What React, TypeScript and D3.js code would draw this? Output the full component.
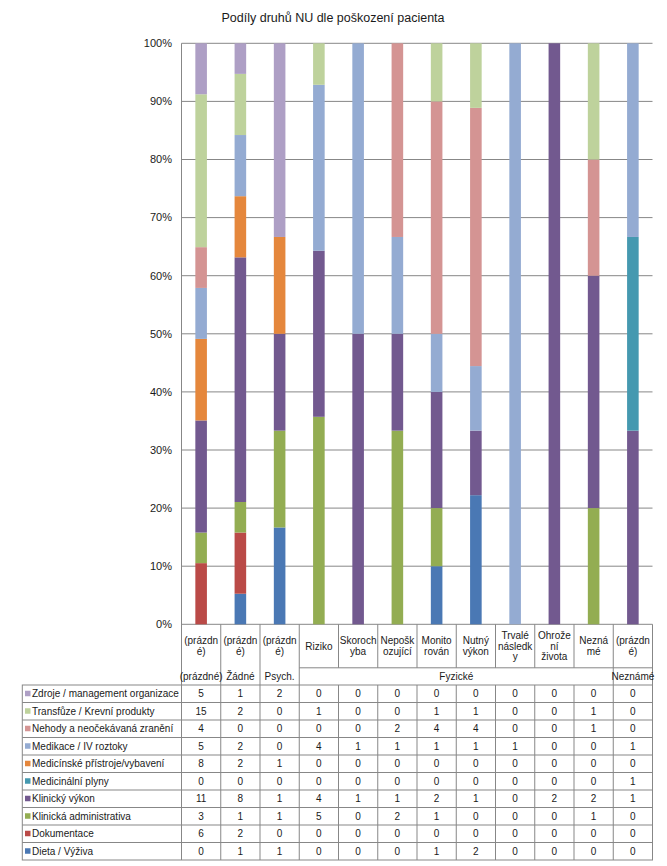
import React from "react";
import * as d3 from "d3";

const title = "Podíly druhů NU dle poškození pacienta";

const categoryLines: string[][] = [
  ["(prázdn", "é)"],
  ["(prázdn", "é)"],
  ["(prázdn", "é)"],
  ["Riziko"],
  ["Skoroch", "yba"],
  ["Nepošk", "ozující"],
  ["Monito", "rován"],
  ["Nutný", "výkon"],
  ["Trvalé", "následk", "y"],
  ["Ohrože", "ní", "života"],
  ["Nezná", "mé"],
  ["(prázdn", "é)"],
];

const groupNames = ["(prázdné)", "Žádné", "Psych.", "Fyzické", "Neznámé"];
const groupStart = [0, 1, 2, 3, 11];
const groupEnd = [0, 1, 2, 10, 11];

// stacking order bottom -> top
const seriesNames = [
  "Dieta / Výživa",
  "Dokumentace",
  "Klinická administrativa",
  "Klinický výkon",
  "Medicinální plyny",
  "Medicínské přístroje/vybavení",
  "Medikace / IV roztoky",
  "Nehody a neočekávaná zranění",
  "Transfůze / Krevní produkty",
  "Zdroje / management organizace",
];

const seriesColors = [
  "#4A78B4",
  "#BA4A47",
  "#93AD52",
  "#72598F",
  "#4599B0",
  "#E5873C",
  "#94ABD2",
  "#D49493",
  "#BED29C",
  "#AE9FC5",
];

const dieta = [0, 1, 1, 0, 0, 0, 1, 2, 0, 0, 0, 0];
const dokumentace = [6, 2, 0, 0, 0, 0, 0, 0, 0, 0, 0, 0];
const klinAdmin = [3, 1, 1, 5, 0, 2, 1, 0, 0, 0, 1, 0];
const klinVykon = [11, 8, 1, 4, 1, 1, 2, 1, 0, 2, 2, 1];
const plyny = [0, 0, 0, 0, 0, 0, 0, 0, 0, 0, 0, 1];
const pristroje = [8, 2, 1, 0, 0, 0, 0, 0, 0, 0, 0, 0];
const medikace = [5, 2, 0, 4, 1, 1, 1, 1, 1, 0, 0, 1];
const nehody = [4, 0, 0, 0, 0, 2, 4, 4, 0, 0, 1, 0];
const transfuze = [15, 2, 0, 1, 0, 0, 1, 1, 0, 0, 1, 0];
const zdroje = [5, 1, 2, 0, 0, 0, 0, 0, 0, 0, 0, 0];

const seriesValues = [dieta, dokumentace, klinAdmin, klinVykon, plyny, pristroje, medikace, nehody, transfuze, zdroje];

const yTicks = [0, 0.1, 0.2, 0.3, 0.4, 0.5, 0.6, 0.7, 0.8, 0.9, 1];

const W = 667;
const H = 866;
const plotLeft = 181.5;
const plotRight = 652.5;
const yTop = 43.3;
const yBottom = 624.3;
const catRowBottom = 667.8;
const tableTop = 685;
const rowH = 17.5;
const tableLeft = 22.3;
const lineColor = "#878787";
const textColor = "#1a1a1a";
const font = "'Liberation Sans', Arial, sans-serif";

export default function App() {
  const idx = d3.range(categoryLines.length);
  const x = d3.scaleBand<number>().domain(idx).range([plotLeft, plotRight]).padding(0);
  const y = d3.scaleLinear().domain([0, 1]).range([yBottom, yTop]);
  const bw = x.bandwidth();
  const barW = bw * 0.295;

  const rows = idx.map((i) => {
    const o: Record<string, number> = {};
    seriesNames.forEach((s, k) => (o[s] = seriesValues[k][i]));
    return o;
  });
  const stack = d3.stack<Record<string, number>>().keys(seriesNames).offset(d3.stackOffsetExpand);
  const stacked = stack(rows);

  const tableRowsOrder = d3.range(seriesNames.length).reverse();
  const tableBottom = tableTop + rowH * tableRowsOrder.length;

  // boundaries where a group changes (full height header lines)
  const groupBoundaries = new Set<number>();
  groupStart.forEach((s) => groupBoundaries.add(s));
  groupBoundaries.add(categoryLines.length);

  return (
    <svg width={W} height={H} style={{ position: "absolute", left: 0, top: 0, background: "#fff" }} fontFamily={font}>
      <rect x={0} y={0} width={W} height={H} fill="#fff" />
      <text x={333} y={22} textAnchor="middle" fontSize={12.5} fill={textColor}>
        {title}
      </text>

      {/* gridlines */}
      {yTicks.map((t) => (
        <g key={t}>
          <line x1={plotLeft} x2={plotRight} y1={y(t)} y2={y(t)} stroke={lineColor} strokeWidth={1} />
          <text x={172} y={y(t)} dy="0.35em" textAnchor="end" fontSize={11} fill={textColor}>
            {d3.format(".0%")(t)}
          </text>
        </g>
      ))}

      {/* bars */}
      {stacked.map((layer, k) => (
        <g key={layer.key} fill={seriesColors[k]}>
          {layer.map((d, i) =>
            d[1] - d[0] > 0 ? (
              <rect
                key={i}
                x={(x(i) as number) + bw / 2 - barW / 2}
                y={y(d[1])}
                width={barW}
                height={y(d[0]) - y(d[1])}
              />
            ) : null
          )}
        </g>
      ))}

      {/* axis */}
      <line x1={plotLeft} x2={plotLeft} y1={yTop} y2={tableBottom} stroke={lineColor} />

      {/* header separators */}
      {d3.range(1, categoryLines.length + 1).map((b) => {
        const xb = b === categoryLines.length ? plotRight : (x(b) as number);
        const full = groupBoundaries.has(b);
        return (
          <line key={b} x1={xb} x2={xb} y1={yBottom} y2={full ? tableTop : catRowBottom} stroke={lineColor} />
        );
      })}
      <line x1={x(3) as number} x2={plotRight} y1={catRowBottom} y2={catRowBottom} stroke={lineColor} />

      {/* category labels */}
      {categoryLines.map((lines, i) => {
        const cx = (x(i) as number) + bw / 2;
        const lh = 10.6;
        const mid = 646;
        const start = mid - ((lines.length - 1) * lh) / 2;
        return (
          <text key={i} textAnchor="middle" fontSize={10} fill={textColor}>
            {lines.map((l, j) => (
              <tspan key={j} x={cx} y={start + j * lh} dy="0.35em">
                {l}
              </tspan>
            ))}
          </text>
        );
      })}

      {/* group labels */}
      {groupNames.map((g, gi) => {
        const x0 = x(groupStart[gi]) as number;
        const x1 = (x(groupEnd[gi]) as number) + bw;
        return (
          <text key={gi} x={(x0 + x1) / 2} y={676.5} dy="0.35em" textAnchor="middle" fontSize={10} fill={textColor}>
            {g}
          </text>
        );
      })}

      {/* table */}
      <rect x={tableLeft} y={tableTop} width={plotRight - tableLeft} height={tableBottom - tableTop} fill="none" stroke={lineColor} />
      {tableRowsOrder.map((k, r) => {
        const ry = tableTop + r * rowH;
        return (
          <g key={k}>
            {r > 0 && <line x1={tableLeft} x2={plotRight} y1={ry} y2={ry} stroke={lineColor} />}
            <rect x={25} y={ry + rowH / 2 - 3} width={5.5} height={5.5} fill={seriesColors[k]} />
            <text x={32} y={ry + rowH / 2} dy="0.35em" fontSize={10} fill={textColor}>
              {seriesNames[k]}
            </text>
            {idx.map((i) => (
              <text
                key={i}
                x={(x(i) as number) + bw / 2}
                y={ry + rowH / 2}
                dy="0.35em"
                textAnchor="middle"
                fontSize={10}
                fill={textColor}
              >
                {seriesValues[k][i]}
              </text>
            ))}
          </g>
        );
      })}
      {d3.range(1, categoryLines.length).map((b) => (
        <line key={b} x1={x(b) as number} x2={x(b) as number} y1={tableTop} y2={tableBottom} stroke={lineColor} />
      ))}
    </svg>
  );
}
